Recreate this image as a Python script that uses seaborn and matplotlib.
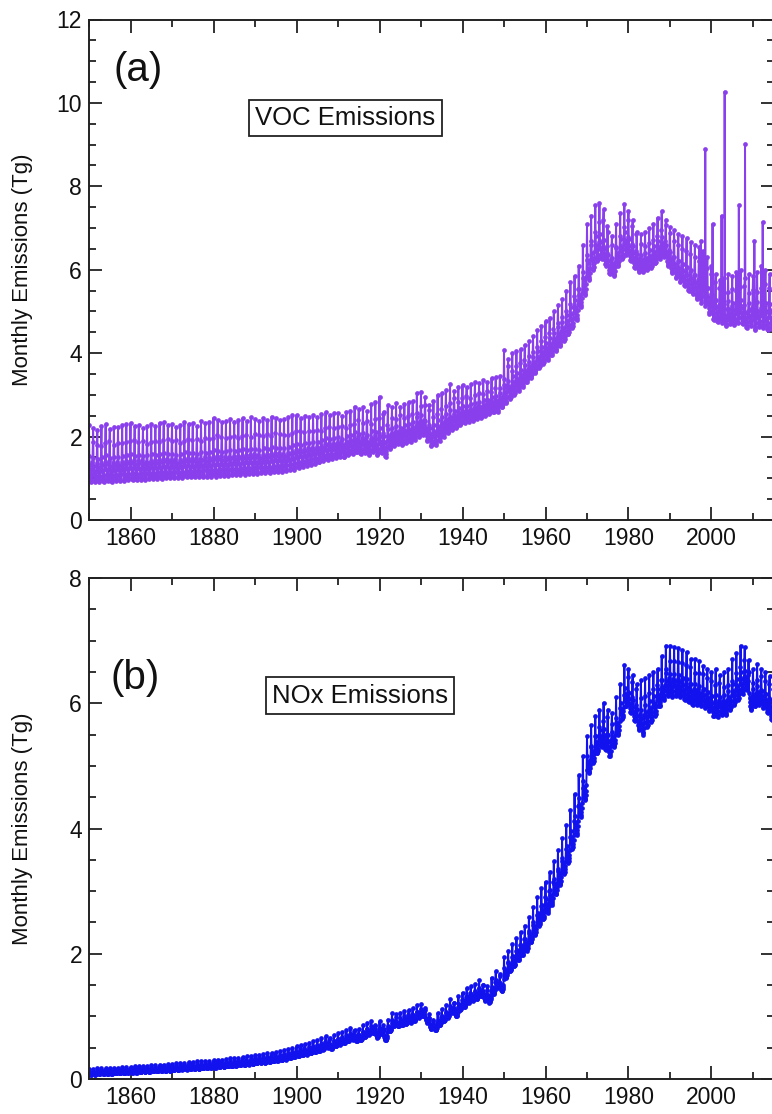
import numpy as np
import pandas as pd
import matplotlib
matplotlib.use("Agg")
import matplotlib.pyplot as plt
import seaborn as sns
from matplotlib.ticker import MultipleLocator

# ---------------- data ----------------
YEARS = list(range(1850, 2015))

# VOC: annual maximum and minimum monthly emissions (Tg)
VOC_HIGH = [
    2.28, 2.20, 2.15, 2.25, 2.30, 2.18, 2.24, 2.22, 2.28, 2.30,
    2.32, 2.25, 2.28, 2.20, 2.25, 2.30, 2.26, 2.33, 2.35, 2.27,
    2.30, 2.22, 2.28, 2.35, 2.30, 2.33, 2.25, 2.38, 2.32, 2.36,
    2.45, 2.40, 2.35, 2.38, 2.42, 2.36, 2.40, 2.44, 2.38, 2.46,
    2.42, 2.38, 2.45, 2.40, 2.48, 2.44, 2.40, 2.42, 2.46, 2.52,
    2.52, 2.45, 2.50, 2.48, 2.52, 2.46, 2.55, 2.58, 2.52, 2.56,
    2.56, 2.50, 2.58, 2.62, 2.72, 2.65, 2.70, 2.62, 2.78, 2.82,
    2.96, 2.60, 2.75, 2.70, 2.80, 2.72, 2.78, 2.82, 2.85, 3.05,
    3.08, 2.95, 2.75, 2.85, 3.00, 3.05, 3.12, 3.25, 3.10, 3.20,
    3.24, 3.18, 3.25, 3.30, 3.28, 3.35, 3.30, 3.40, 3.42, 3.45,
    4.08, 3.85, 4.00, 4.05, 4.10, 4.20, 4.28, 4.40, 4.55, 4.65,
    4.76, 4.85, 5.00, 5.15, 5.30, 5.50, 5.70, 5.85, 6.10, 6.60,
    7.10, 7.30, 7.55, 7.60, 7.45, 6.90, 6.80, 7.10, 7.35, 7.57,
    7.40, 7.20, 6.90, 6.85, 6.90, 7.00, 7.10, 7.25, 7.40, 7.20,
    7.03, 6.95, 6.85, 6.80, 6.75, 6.67, 6.60, 6.55, 6.45, 6.30,
    6.10, 5.90, 5.75, 5.80, 5.90, 5.85, 5.95, 6.00, 5.80, 5.90,
    5.85, 5.95, 6.10, 6.00, 5.90,
]
VOC_LOW = [
    0.92, 0.90, 0.91, 0.92, 0.93, 0.92, 0.93, 0.94, 0.94, 0.95,
    0.96, 0.96, 0.97, 0.97, 0.98, 0.98, 0.99, 0.99, 1.00, 1.00,
    1.00, 1.01, 1.01, 1.02, 1.02, 1.02, 1.03, 1.03, 1.04, 1.04,
    1.04, 1.05, 1.06, 1.06, 1.07, 1.08, 1.08, 1.09, 1.10, 1.10,
    1.11, 1.12, 1.12, 1.13, 1.14, 1.15, 1.16, 1.17, 1.19, 1.21,
    1.25, 1.28, 1.30, 1.33, 1.35, 1.38, 1.42, 1.45, 1.46, 1.48,
    1.52, 1.50, 1.55, 1.58, 1.62, 1.58, 1.60, 1.56, 1.62, 1.55,
    1.60, 1.52, 1.70, 1.78, 1.82, 1.80, 1.85, 1.88, 1.92, 2.00,
    2.04, 1.90, 1.78, 1.80, 1.90, 2.00, 2.08, 2.15, 2.20, 2.28,
    2.32, 2.35, 2.38, 2.42, 2.45, 2.50, 2.55, 2.58, 2.60, 2.70,
    2.80, 2.90, 3.00, 3.10, 3.20, 3.30, 3.40, 3.52, 3.65, 3.75,
    3.84, 3.95, 4.05, 4.18, 4.30, 4.45, 4.60, 4.80, 5.10, 5.40,
    5.75, 6.00, 6.20, 6.25, 6.10, 5.90, 5.85, 6.10, 6.25, 6.35,
    6.20, 6.05, 5.95, 5.95, 6.00, 6.05, 6.15, 6.25, 6.30, 6.10,
    5.92, 5.80, 5.70, 5.60, 5.50, 5.43, 5.30, 5.20, 5.10, 4.95,
    4.80, 4.75, 4.72, 4.65, 4.70, 4.68, 4.72, 4.70, 4.60, 4.65,
    4.56, 4.62, 4.60, 4.55, 4.58,
]
# isolated VOC monthly spikes after 1995
SPIKE_YEARS = [1997, 1998, 2000, 2002, 2003, 2006, 2008, 2010, 2012]
SPIKE_MONTHS = [5, 6, 3, 5, 2, 7, 1, 4, 4]
SPIKE_VALUES = [6.70, 8.89, 7.10, 7.30, 10.27, 7.55, 9.02, 6.70, 7.15]

# NOx: annual maximum and minimum monthly emissions (Tg)
NOX_HIGH = [
    0.16, 0.16, 0.17, 0.17, 0.17, 0.18, 0.18, 0.18, 0.19, 0.19,
    0.19, 0.20, 0.20, 0.21, 0.21, 0.22, 0.22, 0.23, 0.23, 0.24,
    0.24, 0.25, 0.26, 0.26, 0.27, 0.27, 0.28, 0.28, 0.29, 0.29,
    0.30, 0.31, 0.31, 0.32, 0.33, 0.33, 0.34, 0.35, 0.36, 0.37,
    0.38, 0.39, 0.40, 0.41, 0.42, 0.43, 0.44, 0.46, 0.48, 0.50,
    0.52, 0.54, 0.56, 0.58, 0.60, 0.62, 0.65, 0.68, 0.66, 0.70,
    0.73, 0.75, 0.78, 0.82, 0.78, 0.80, 0.86, 0.90, 0.92, 0.85,
    0.92, 0.80, 0.95, 1.05, 1.04, 1.06, 1.08, 1.10, 1.13, 1.18,
    1.20, 1.10, 0.98, 0.95, 1.05, 1.12, 1.18, 1.28, 1.22, 1.32,
    1.38, 1.45, 1.48, 1.52, 1.58, 1.50, 1.48, 1.62, 1.72, 1.68,
    1.95, 2.05, 2.15, 2.25, 2.35, 2.45, 2.58, 2.75, 2.90, 3.05,
    3.15, 3.30, 3.48, 3.65, 3.85, 4.05, 4.30, 4.55, 4.85, 5.15,
    5.47, 5.65, 5.80, 5.90, 6.01, 5.90, 5.85, 6.10, 6.30, 6.61,
    6.55, 6.45, 6.30, 6.37, 6.40, 6.45, 6.50, 6.55, 6.75, 6.92,
    6.92, 6.90, 6.88, 6.85, 6.82, 6.70, 6.70, 6.68, 6.60, 6.55,
    6.50, 6.55, 6.45, 6.50, 6.55, 6.70, 6.80, 6.92, 6.90, 6.50,
    6.55, 6.62, 6.55, 6.50, 6.43,
]
NOX_LOW = [
    0.07, 0.07, 0.08, 0.08, 0.08, 0.08, 0.09, 0.09, 0.09, 0.10,
    0.10, 0.10, 0.11, 0.11, 0.11, 0.12, 0.12, 0.13, 0.13, 0.13,
    0.14, 0.14, 0.15, 0.15, 0.16, 0.16, 0.16, 0.17, 0.17, 0.18,
    0.18, 0.19, 0.19, 0.20, 0.20, 0.21, 0.22, 0.22, 0.23, 0.24,
    0.25, 0.26, 0.26, 0.27, 0.28, 0.29, 0.30, 0.31, 0.33, 0.35,
    0.36, 0.38, 0.39, 0.41, 0.43, 0.44, 0.47, 0.50, 0.48, 0.52,
    0.55, 0.57, 0.60, 0.63, 0.60, 0.62, 0.67, 0.71, 0.73, 0.66,
    0.72, 0.62, 0.76, 0.85, 0.84, 0.86, 0.88, 0.90, 0.93, 0.98,
    1.00, 0.90, 0.80, 0.78, 0.86, 0.92, 0.98, 1.06, 1.00, 1.10,
    1.15, 1.22, 1.25, 1.28, 1.32, 1.25, 1.22, 1.36, 1.46, 1.40,
    1.62, 1.72, 1.80, 1.90, 1.98, 2.05, 2.18, 2.30, 2.45, 2.55,
    2.65, 2.78, 2.95, 3.10, 3.28, 3.45, 3.68, 3.90, 4.18, 4.45,
    4.89, 5.05, 5.20, 5.30, 5.25, 5.15, 5.30, 5.50, 5.75, 5.95,
    5.85, 5.72, 5.58, 5.50, 5.62, 5.70, 5.80, 5.95, 6.05, 6.12,
    6.10, 6.12, 6.10, 6.05, 6.02, 5.98, 5.98, 5.95, 5.92, 5.88,
    5.79, 5.78, 5.82, 5.82, 5.90, 5.98, 6.05, 6.15, 6.21, 5.90,
    5.95, 5.98, 5.92, 5.85, 5.73,
]
# position of each month within the annual range (0 = annual min, 1 = annual max)
MONTH_POS = [1.00, 0.45, 0.30, 0.20, 0.10, 0.02, 0.00, 0.05, 0.12, 0.22, 0.35, 0.70]

# ---------------- assemble monthly table ----------------
rows = []
for i, yr in enumerate(YEARS):
    for m, p in enumerate(MONTH_POS):
        voc = VOC_LOW[i] + (VOC_HIGH[i] - VOC_LOW[i]) * p
        nox = NOX_LOW[i] + (NOX_HIGH[i] - NOX_LOW[i]) * p
        rows.append((yr + m / 12.0, yr, m, voc, nox))
df = pd.DataFrame(rows, columns=["time", "year", "month", "voc", "nox"])
for sy, sm, sv in zip(SPIKE_YEARS, SPIKE_MONTHS, SPIKE_VALUES):
    df.loc[(df.year == sy) & (df.month == sm), "voc"] = sv

# ---------------- style ----------------
sns.set_theme(style="ticks")
plt.rcParams["font.family"] = ["Liberation Sans", "DejaVu Sans"]
plt.rcParams["axes.edgecolor"] = "#222222"
plt.rcParams["axes.linewidth"] = 1.4
plt.rcParams["text.color"] = "#111111"
plt.rcParams["axes.labelcolor"] = "#111111"
plt.rcParams["xtick.labelcolor"] = "#111111"
plt.rcParams["ytick.labelcolor"] = "#111111"

fig = plt.figure(figsize=(7.72, 11.14), dpi=100)
W, H = 772.0, 1114.0
left = 89 / W
width = (773.75 - 89) / W
ax1 = fig.add_axes([left, 1 - 520 / H, width, (520 - 19.5) / H])
ax2 = fig.add_axes([left, 1 - 1079 / H, width, (1079 - 578) / H])

VOC_COLOR = "#8A3FEC"
NOX_COLOR = "#1212EE"

sns.lineplot(data=df, x="time", y="voc", ax=ax1, color=VOC_COLOR, lw=1.4,
             marker="o", markersize=3.4, markeredgewidth=0, sort=False,
             estimator=None)
sns.lineplot(data=df, x="time", y="nox", ax=ax2, color=NOX_COLOR, lw=1.4,
             marker="o", markersize=3.4, markeredgewidth=0, sort=False,
             estimator=None)

for ax, ymax in ((ax1, 12), (ax2, 8)):
    ax.set_xlim(1850, 2015)
    ax.set_ylim(0, ymax)
    ax.xaxis.set_major_locator(MultipleLocator(20))
    ax.xaxis.set_minor_locator(MultipleLocator(10))
    ax.yaxis.set_major_locator(MultipleLocator(2))
    ax.yaxis.set_minor_locator(MultipleLocator(0.5))
    ax.set_xticks(range(1860, 2015, 20))
    ax.tick_params(which="both", direction="in", top=True, right=True,
                   color="#222222", width=1.3, labelsize=16.5, pad=5)
    ax.tick_params(which="major", length=9.5)
    ax.tick_params(which="minor", length=5)
    ax.set_xlabel("")
    ax.set_ylabel("Monthly Emissions (Tg)", fontsize=16)
    ax.yaxis.set_label_coords(-0.082, 0.5)
    for s in ax.spines.values():
        s.set_visible(True)

ax1.text(1856.0, 10.8, "(a)", fontsize=29, va="center", ha="left")
ax1.text(1911.8, 9.64, "VOC Emissions", fontsize=18.5, va="center", ha="center",
         bbox=dict(boxstyle="square,pad=0.25", fc="white", ec="#222222", lw=1.3))
ax2.text(1855.3, 6.4, "(b)", fontsize=29, va="center", ha="left")
ax2.text(1915.3, 6.12, "NOx Emissions", fontsize=18.5, va="center", ha="center",
         bbox=dict(boxstyle="square,pad=0.25", fc="white", ec="#222222", lw=1.3))

fig.savefig("out.png", dpi=100)
